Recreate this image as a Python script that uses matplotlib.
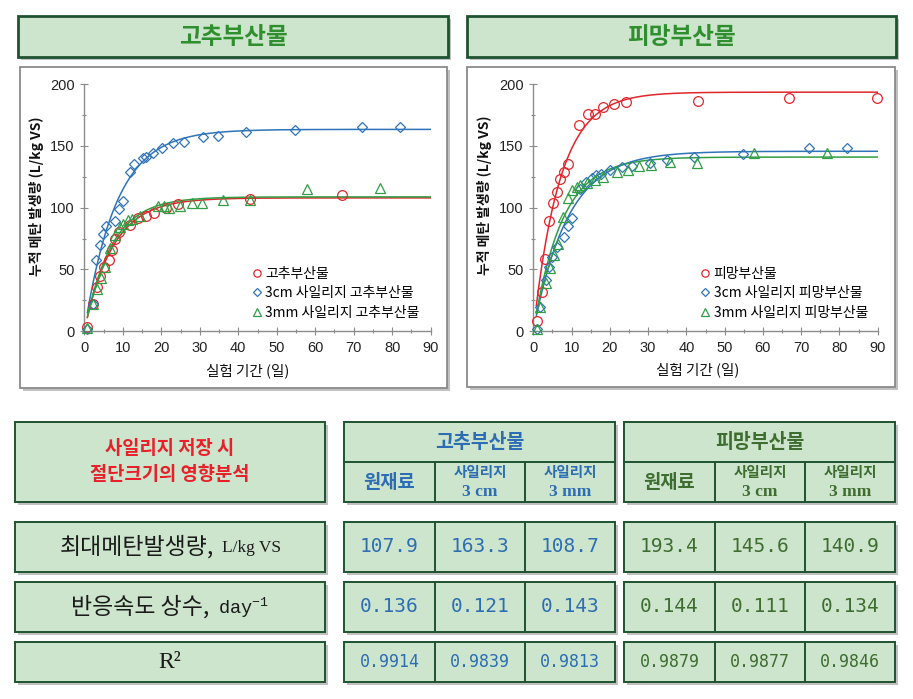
import numpy as np
import matplotlib
matplotlib.use("Agg")
import matplotlib.pyplot as plt
from matplotlib.patches import Rectangle
from matplotlib.lines import Line2D
from matplotlib.font_manager import FontProperties

KR = ['Noto Sans CJK KR', 'DejaVu Sans']
plt.rcParams['font.family'] = KR

# ---------------- data ----------------
# 고추부산물 (pepper by-product)
gochu_raw_day = [0.8, 2.3, 3.2, 4.1, 5.2, 6.3, 7.2, 8.0, 9.0, 11.9, 13.9, 16.0, 18.2, 21.2, 24.3, 43.0, 66.9]
gochu_raw_val = [3.5, 22, 36, 45, 52, 58, 66, 75, 80, 86, 92, 93, 96, 100, 103, 107, 110]
gochu_3cm_day = [0.8, 2.3, 3.0, 4.1, 4.8, 5.6, 8.0, 9.0, 10.1, 11.9, 12.9, 15.2, 16.0, 17.8, 20.1, 23.0, 25.8,
                 30.8, 34.8, 42.0, 54.7, 72.1, 82.0]
gochu_3cm_val = [1.6, 22, 58, 70, 79, 85, 89, 99, 105, 129, 135, 140, 141, 144, 148, 152, 153,
                 157, 158, 161, 163, 165.5, 165.5]
gochu_3mm_day = [0.8, 2.3, 3.2, 4.3, 5.5, 6.7, 8.0, 9.3, 10.1, 11.3, 12.3, 14.5, 19.2, 20.8, 22.1, 24.9, 27.9,
                 30.5, 36.0, 43.0, 57.8, 76.7]
gochu_3mm_val = [2.4, 22, 34, 43, 52, 67, 78, 84, 87, 90, 91, 93, 101, 101, 99.5, 101, 103.5,
                 104, 106, 106, 115, 116]

# 피망부산물 (bell pepper by-product)
pimang_raw_day = [1.0, 2.4, 3.1, 4.0, 5.2, 6.1, 7.1, 7.9, 9.1, 11.9, 14.2, 16.0, 18.1, 21.0, 24.1, 43.0, 66.9, 89.9]
pimang_raw_val = [8, 32, 58.5, 89.5, 103.5, 113, 123, 129, 135.6, 167, 175.5, 176, 181, 184, 185.7, 186, 189, 189]
pimang_3cm_day = [1.0, 1.8, 3.3, 4.2, 5.0, 6.2, 7.9, 9.1, 10.1, 12.2, 13.8, 15.3, 16.3, 17.7, 20.0, 23.1, 25.9,
                  30.6, 35.0, 41.9, 54.9, 72.1, 82.1]
pimang_3cm_val = [1.6, 20, 41.5, 52, 60, 68, 76, 85, 92, 114.8, 121, 123.7, 126.4, 127, 130.4, 133, 133.7,
                  135.8, 138.5, 141.2, 143, 148, 148]
pimang_3mm_day = [1.0, 1.8, 3.2, 4.3, 5.3, 6.5, 7.8, 9.1, 10.0, 11.3, 12.2, 14.0, 16.1, 18.3, 22.0, 24.8, 27.6,
                  30.8, 35.8, 42.8, 57.8, 76.8]
pimang_3mm_val = [1.6, 20, 39, 51.5, 62, 71, 92.7, 107.5, 114, 116.4, 118.3, 119.7, 122.3, 125, 129, 130.4, 133.7,
                  134.2, 137, 136.3, 144, 144]

# first-order model parameters (table)
gochu_B0 = [107.9, 163.3, 108.7]
gochu_k = [0.136, 0.121, 0.143]
gochu_R2 = ['0.9914', '0.9839', '0.9813']
pimang_B0 = [193.4, 145.6, 140.9]
pimang_k = [0.144, 0.111, 0.134]
pimang_R2 = ['0.9879', '0.9877', '0.9846']

gochu_labels = ['고추부산물', '3cm 사일리지 고추부산물', '3mm 사일리지 고추부산물']
pimang_labels = ['피망부산물', '3cm 사일리지 피망부산물', '3mm 사일리지 피망부산물']
x_ticks = [0, 10, 20, 30, 40, 50, 60, 70, 80, 90]
y_ticks = [0, 50, 100, 150, 200]

# ---------------- styles ----------------
W, H = 913, 699
RED, BLUE, GREEN = '#e0262b', '#2f74b8', '#2f9e44'
FILL = '#cde5cc'
EDGE = '#1f5330'
T_BLUE = '#2c6db3'
T_GREEN = '#3e6d30'

fig = plt.figure(figsize=(W / 100, H / 100), dpi=100)
fig.patch.set_facecolor('white')
bg = fig.add_axes([0, 0, 1, 1])
bg.set_xlim(0, W)
bg.set_ylim(H, 0)
bg.axis('off')


def box(x0, y0, x1, y1, fc=FILL, ec=EDGE, lw=1.4, shadow=True):
    if shadow:
        bg.add_patch(Rectangle((x0 + 3, y0 + 3), x1 - x0, y1 - y0, fc='#8f8f8f', ec='none',
                               alpha=0.55, zorder=1))
    bg.add_patch(Rectangle((x0, y0), x1 - x0, y1 - y0, fc=fc, ec=ec, lw=lw, zorder=2))


def vline(x, y0, y1, lw=1.4):
    bg.plot([x, x], [y0, y1], color=EDGE, lw=lw, zorder=3)


def hline(y, x0, x1, lw=1.4):
    bg.plot([x0, x1], [y, y], color=EDGE, lw=lw, zorder=3)


# ---------------- top headers ----------------
box(18, 16, 448, 57, lw=2.0)
box(467, 16, 896, 57, lw=2.0)
bg.text(233, 37, '고추부산물', ha='center', va='center', fontsize=17, fontweight='bold',
        color='#2f8f2f', family=KR, zorder=4)
bg.text(681, 37, '피망부산물', ha='center', va='center', fontsize=17, fontweight='bold',
        color='#2f8f2f', family=KR, zorder=4)

# chart frames
box(20, 67, 447, 388, fc='white', ec='#8a8a8a', lw=1.3)
box(467, 67, 895, 387, fc='white', ec='#8a8a8a', lw=1.3)


def px_axes(l, t, r, b):
    return fig.add_axes([l / W, 1 - b / H, (r - l) / W, (b - t) / H])


def make_chart(ax, series, B0s, ks, labels):
    colors = [RED, BLUE, GREEN]
    markers = ['o', 'D', '^']
    sizes = [7, 5.2, 7]
    t = np.linspace(0.8, 90, 400)
    for (d, v), B0, k, c, m, s in zip(series, B0s, ks, colors, markers, sizes):
        ax.plot(t, B0 * (1 - np.exp(-k * t)), color=c, lw=1.1, zorder=2)
        ax.plot(d, v, ls='none', marker=m, ms=s, mfc='none', mec=c, mew=0.9, zorder=3, clip_on=False)
    ax.set_xlim(0, 90)
    ax.set_ylim(0, 200)
    ax.set_xticks(x_ticks)
    ax.set_yticks(y_ticks)
    ax.set_xticks(np.arange(5, 90, 10), minor=True)
    ax.set_yticks(np.arange(25, 200, 50), minor=True)
    ax.set_facecolor('none')
    for s in ['top', 'right']:
        ax.spines[s].set_visible(False)
    for s in ['left', 'bottom']:
        ax.spines[s].set_color('#8c8c8c')
        ax.spines[s].set_linewidth(1.0)
    ax.tick_params(which='major', direction='inout', length=6, width=0.8, color='#8c8c8c',
                   labelsize=10.5, labelcolor='#222222', pad=4)
    ax.tick_params(which='minor', direction='inout', length=3.5, width=0.8, color='#8c8c8c')
    for lab in ax.get_xticklabels() + ax.get_yticklabels():
        lab.set_family(['Liberation Sans', 'DejaVu Sans'])
    handles = [Line2D([], [], ls='none', marker=m, ms=s * 0.75, mfc='none', mec=c, mew=0.9)
               for c, m, s in zip(colors, markers, sizes)]
    ax.legend(handles, labels, loc='lower left', bbox_to_anchor=(0.485, 0.045), frameon=False,
              handlelength=0.7, handletextpad=0.25, labelspacing=0.42, borderpad=0, borderaxespad=0,
              prop=FontProperties(family=KR, size=10))


ax1 = px_axes(84.3, 84, 430.7, 331.3)
make_chart(ax1, [(gochu_raw_day, gochu_raw_val), (gochu_3cm_day, gochu_3cm_val),
                 (gochu_3mm_day, gochu_3mm_val)], gochu_B0, gochu_k, gochu_labels)
ax2 = px_axes(533.3, 84, 877.7, 331.3)
make_chart(ax2, [(pimang_raw_day, pimang_raw_val), (pimang_3cm_day, pimang_3cm_val),
                 (pimang_3mm_day, pimang_3mm_val)], pimang_B0, pimang_k, pimang_labels)

ylab = '누적 메탄 발생량 (L/kg VS)'
xlab = '실험 기간 (일)'
bg.text(37, 196, ylab, rotation=90, ha='center', va='center', fontsize=10, fontweight='bold',
        color='#111111', zorder=5)
bg.text(484, 195, ylab, rotation=90, ha='center', va='center', fontsize=10, fontweight='bold',
        color='#111111', zorder=5)
bg.text(248, 371, xlab, ha='center', va='center', fontsize=10.5, color='#111111', zorder=5)
bg.text(698, 370, xlab, ha='center', va='center', fontsize=10.5, color='#111111', zorder=5)

# ---------------- table ----------------
# title box
box(15, 422, 325, 502)
bg.text(170, 449, '사일리지 저장 시', ha='center', va='center', fontsize=13.5, fontweight='bold',
        color='#e8202a', zorder=4)
bg.text(170, 475, '절단크기의 영향분석', ha='center', va='center', fontsize=13.5, fontweight='bold',
        color='#e8202a', zorder=4)

row_y = [(522, 572), (582, 632), (642, 682)]
for y0, y1 in row_y:
    box(15, y0, 325, y1)


def label_pair(cy, main, unit, unit_font, unit_size, main_size=16.5):
    t1 = bg.text(0, cy, main, ha='left', va='center', fontsize=main_size, color='#1a1a1a',
                 family=KR, zorder=4)
    t2 = bg.text(0, cy + 1, unit, ha='left', va='center', fontsize=unit_size, color='#1a1a1a',
                 family=unit_font, zorder=4)
    return t1, t2


pairs = [label_pair(547, '최대메탄발생량,', 'L/kg VS', ['Liberation Serif', 'DejaVu Serif'], 12.5),
         label_pair(607, '반응속도 상수,', r'day$^{\mathregular{-1}}$', ['Liberation Mono', 'DejaVu Sans Mono'], 13.5)]
bg.text(170, 662, 'R²', ha='center', va='center', fontsize=17, color='#1a1a1a',
        family=['Liberation Serif', 'DejaVu Serif'], zorder=4)

groups = [
    (344, 615, [435, 525], '고추부산물', T_BLUE, gochu_B0, gochu_k, gochu_R2),
    (624, 895, [715, 805], '피망부산물', T_GREEN, pimang_B0, pimang_k, pimang_R2),
]
for x0, x1, seps, title, tc, B0s, ks, r2s in groups:
    box(x0, 422, x1, 502)
    hline(462, x0, x1)
    for s in seps:
        vline(s, 462, 502)
    bg.text((x0 + x1) / 2, 442, title, ha='center', va='center', fontsize=14, fontweight='bold',
            color=tc, zorder=4)
    cols = [(x0 + seps[0]) / 2, (seps[0] + seps[1]) / 2, (seps[1] + x1) / 2]
    bg.text(cols[0], 483, '원재료', ha='center', va='center', fontsize=13.5, fontweight='bold',
            color=tc, zorder=4)
    for cx, sz in zip(cols[1:], ['3 cm', '3 mm']):
        bg.text(cx, 472, '사일리지', ha='center', va='center', fontsize=10.5, fontweight='bold',
                color=tc, zorder=4)
        bg.text(cx, 492, sz, ha='center', va='center', fontsize=12.5, fontweight='bold',
                color=tc, family=['Liberation Serif', 'DejaVu Serif'], zorder=4)
    for (y0, y1) in row_y:
        box(x0, y0, x1, y1)
        for s in seps:
            vline(s, y0, y1)
    for cx, b, k, r in zip(cols, B0s, ks, r2s):
        bg.text(cx, 547, f'{b:.1f}', ha='center', va='center', fontsize=14, color=tc,
                family=['DejaVu Sans Mono'], zorder=4)
        bg.text(cx, 607, f'{k:.3f}', ha='center', va='center', fontsize=14, color=tc,
                family=['DejaVu Sans Mono'], zorder=4)
        bg.text(cx, 662, r, ha='center', va='center', fontsize=12, color=tc,
                family=['DejaVu Sans Mono'], zorder=4)

# center the row-label pairs using measured widths
fig.canvas.draw()
for (t1, t2), cx in zip(pairs, [170, 170]):
    w1 = t1.get_window_extent().width
    w2 = t2.get_window_extent().width
    gap = 8
    start = cx - (w1 + gap + w2) / 2
    t1.set_x(start)
    t2.set_x(start + w1 + gap)

fig.savefig('out.png', dpi=100, facecolor='white')
